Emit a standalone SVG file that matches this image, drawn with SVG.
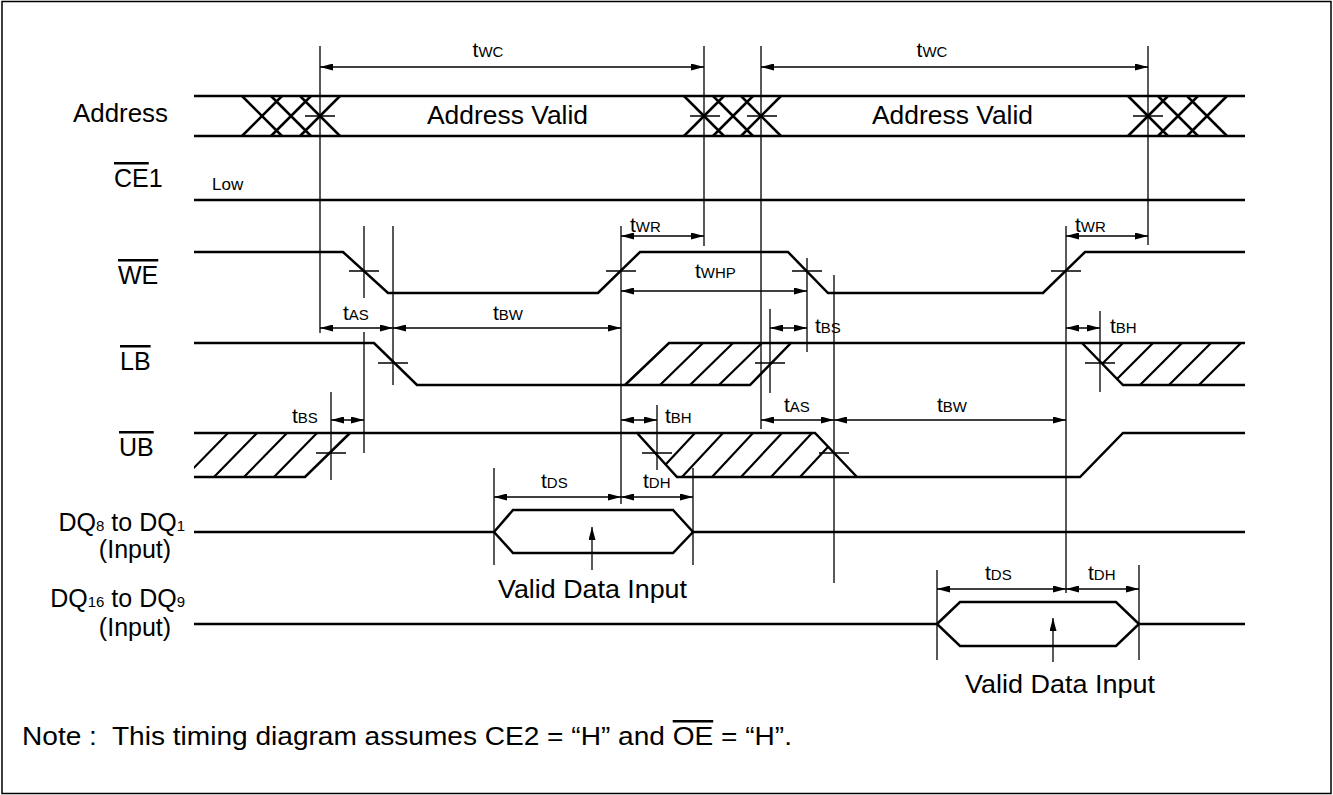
<svg xmlns="http://www.w3.org/2000/svg" width="1333" height="795" viewBox="0 0 1333 795">
<style>
.sig{fill:none;stroke:#000;stroke-width:2.5;stroke-linejoin:miter}
.thin{fill:none;stroke:#000;stroke-width:1.3}
.hat{fill:none;stroke:#000;stroke-width:2.2}
.dim{fill:none;stroke:#000;stroke-width:1.3;marker-start:url(#ah);marker-end:url(#ah)}
.up{fill:none;stroke:#000;stroke-width:1.3;marker-end:url(#ah)}
text{font-family:"Liberation Sans",Arial,Helvetica,sans-serif;fill:#000}
.lbl{font-size:25px}
.tb{font-size:21px}
.ts{font-size:15px}
.ov{text-decoration:overline}
</style>
<defs>
<marker id="ah" viewBox="0 0 13 7" refX="13" refY="3.5" markerWidth="13" markerHeight="7" markerUnits="userSpaceOnUse" orient="auto-start-reverse"><path d="M0,0 L13,3.5 L0,7 Z" fill="#000"/></marker>
<clipPath id="cLB2"><polygon points="1082,343 1245,343 1245,385 1123,385"/></clipPath>
<clipPath id="cUB1"><polygon points="194,433 350,433 305,477 194,477"/></clipPath>
<clipPath id="cUB2"><polygon points="637,433 815,433 857,477 677,477"/></clipPath>
</defs>
<rect x="2" y="1.5" width="1329" height="792" fill="#fff" stroke="#000" stroke-width="1.5"/>

<g id="labels">
<text class="lbl" x="73" y="122" textLength="95" lengthAdjust="spacingAndGlyphs">Address</text>
<text class="lbl" x="114" y="187"><tspan class="ov">CE</tspan>1</text>
<text class="lbl" x="118" y="284"><tspan class="ov">WE</tspan></text>
<text class="lbl" x="120" y="370"><tspan class="ov">LB</tspan></text>
<text class="lbl" x="119" y="456"><tspan class="ov">UB</tspan></text>
<text class="lbl" x="185" y="531" text-anchor="end">DQ<tspan class="ts">8</tspan> to DQ<tspan class="ts">1</tspan></text>
<text class="lbl" x="135" y="558" text-anchor="middle">(Input)</text>
<text class="lbl" x="185" y="607" text-anchor="end">DQ<tspan class="ts">16</tspan> to DQ<tspan class="ts">9</tspan></text>
<text class="lbl" x="135" y="636" text-anchor="middle">(Input)</text>
</g>

<g id="address">
<path class="sig" d="M194,96 H1245 M194,136 H1245"/>
<path class="sig" d="M242,96 L282,136 M242,136 L282,96 M271,96 L311,136 M271,136 L311,96 M300,96 L340,136 M300,136 L340,96"/>
<path class="sig" d="M684,96 L724,136 M684,136 L724,96 M713,96 L753,136 M713,136 L753,96 M741,96 L781,136 M741,136 L781,96"/>
<path class="sig" d="M1128,96 L1168,136 M1128,136 L1168,96 M1158,96 L1198,136 M1158,136 L1198,96 M1187,96 L1227,136 M1187,136 L1227,96"/>
<text class="lbl" x="427" y="124" textLength="161" lengthAdjust="spacingAndGlyphs">Address Valid</text>
<text class="lbl" x="872" y="124" textLength="161" lengthAdjust="spacingAndGlyphs">Address Valid</text>
</g>

<g id="ce1">
<path class="sig" d="M194,200 H1245"/>
<text x="212" y="190" font-size="17">Low</text>
</g>

<g id="we">
<path class="sig" d="M194,252 H343 L388,293 H598 L640,252 H788 L828,293 H1043 L1085,252 H1245"/>
</g>

<g id="lb">
<path class="sig" d="M194,343 H374 L417,385 H750 L791,343 H1245"/>
<path class="sig" d="M625,385 L669,343 H791"/>
<path class="hat" d="M660,385 L703,343 M690,385 L733,343 M719,385 L762,343"/>
<path class="sig" d="M1082,343 L1123,385 H1245"/>
<path class="hat" clip-path="url(#cLB2)" d="M1081,385 L1123,343 M1111,385 L1153,343 M1140,385 L1182,343 M1169,385 L1211,343 M1199,385 L1241,343"/>
</g>

<g id="ub">
<path class="sig" d="M194,433 H637 L677,477 H1080 L1123,433 H1245"/>
<path class="sig" d="M637,433 H815 L857,477"/>
<path class="sig" d="M194,477 H305 L350,433"/>
<path class="hat" clip-path="url(#cUB1)" d="M185,477 L228,433 M214,477 L257,433 M244,477 L287,433 M274,477 L317,433"/>
<path class="hat" clip-path="url(#cUB2)" d="M654,477 L695,433 M682,477 L723,433 M712,477 L753,433 M741,477 L782,433 M771,477 L812,433 M800,477 L841,433"/>
</g>

<g id="dq8">
<path class="sig" d="M194,532 H494 M494,532 L513,510 H673 L693,532 L673,553 H513 Z M693,532 H1245"/>
<text class="lbl" x="498" y="598" textLength="189" lengthAdjust="spacingAndGlyphs">Valid Data Input</text>
</g>

<g id="dq16">
<path class="sig" d="M194,624 H937 M937,624 L960,602 H1116 L1139,624 L1116,646 H960 Z M1139,624 H1245"/>
<text class="lbl" x="965" y="693" textLength="190" lengthAdjust="spacingAndGlyphs">Valid Data Input</text>
</g>

<g id="connectors">
<path class="thin" d="M320,46 V333 M704,46 V246 M761,46 V429 M1148,46 V245 M364,226 V298 M364,332 V453 M393,226 V385 M621,226 V504 M807,258 V352 M834,275 V583 M770,309 V393 M1066,226 V593 M1100,311 V392 M331,392 V480 M657,405 V470 M693,468 V565 M494,468 V565 M937,570 V660 M1139,565 V660"/>
<path class="thin" d="M305,116 H335 M690,116 H720 M747,116 H777 M1133,116 H1163 M349,271 H379 M606,271 H636 M792,271 H822 M1051,271 H1081 M378,363 H408 M755,363 H785 M1085,363 H1115 M316,453 H346 M642,453 H672 M819,453 H849"/>
<path class="dim" d="M320,67 H704"/>
<path class="dim" d="M761,67 H1148"/>
<path class="dim" d="M621,236 H704"/>
<path class="dim" d="M1066,236 H1148"/>
<path class="dim" d="M621,291 H807"/>
<path class="dim" d="M320,328 H393"/>
<path class="dim" d="M393,328 H621"/>
<path class="dim" d="M770,328 H807"/>
<path class="dim" d="M1066,328 H1100"/>
<path class="dim" d="M331,420 H364"/>
<path class="dim" d="M621,420 H657"/>
<path class="dim" d="M761,420 H834"/>
<path class="dim" d="M834,420 H1066"/>
<path class="dim" d="M494,497 H621"/>
<path class="dim" d="M621,497 H693"/>
<path class="dim" d="M937,589 H1066"/>
<path class="dim" d="M1066,589 H1139"/>
<path class="up" d="M592,570 V527"/>
<path class="up" d="M1053,662 V618"/>
<text x="488" y="57" text-anchor="middle"><tspan class="tb">t</tspan><tspan class="ts">WC</tspan></text>
<text x="932" y="57" text-anchor="middle"><tspan class="tb">t</tspan><tspan class="ts">WC</tspan></text>
<text x="630" y="232"><tspan class="tb">t</tspan><tspan class="ts">WR</tspan></text>
<text x="1075" y="232"><tspan class="tb">t</tspan><tspan class="ts">WR</tspan></text>
<text x="695" y="278"><tspan class="tb">t</tspan><tspan class="ts">WHP</tspan></text>
<text x="343" y="320"><tspan class="tb">t</tspan><tspan class="ts">AS</tspan></text>
<text x="493" y="320"><tspan class="tb">t</tspan><tspan class="ts">BW</tspan></text>
<text x="815" y="333"><tspan class="tb">t</tspan><tspan class="ts">BS</tspan></text>
<text x="1110" y="333"><tspan class="tb">t</tspan><tspan class="ts">BH</tspan></text>
<text x="292" y="423"><tspan class="tb">t</tspan><tspan class="ts">BS</tspan></text>
<text x="665" y="423"><tspan class="tb">t</tspan><tspan class="ts">BH</tspan></text>
<text x="784" y="412"><tspan class="tb">t</tspan><tspan class="ts">AS</tspan></text>
<text x="937" y="412"><tspan class="tb">t</tspan><tspan class="ts">BW</tspan></text>
<text x="541" y="488"><tspan class="tb">t</tspan><tspan class="ts">DS</tspan></text>
<text x="643" y="488"><tspan class="tb">t</tspan><tspan class="ts">DH</tspan></text>
<text x="985" y="580"><tspan class="tb">t</tspan><tspan class="ts">DS</tspan></text>
<text x="1088" y="580"><tspan class="tb">t</tspan><tspan class="ts">DH</tspan></text>
</g>

<g id="note">
<text class="lbl" x="22" y="745" xml:space="preserve" textLength="770" lengthAdjust="spacingAndGlyphs">Note :  This timing diagram assumes CE2 = “H” and <tspan class="ov">OE</tspan> = “H”.</text>
</g>
</svg>
